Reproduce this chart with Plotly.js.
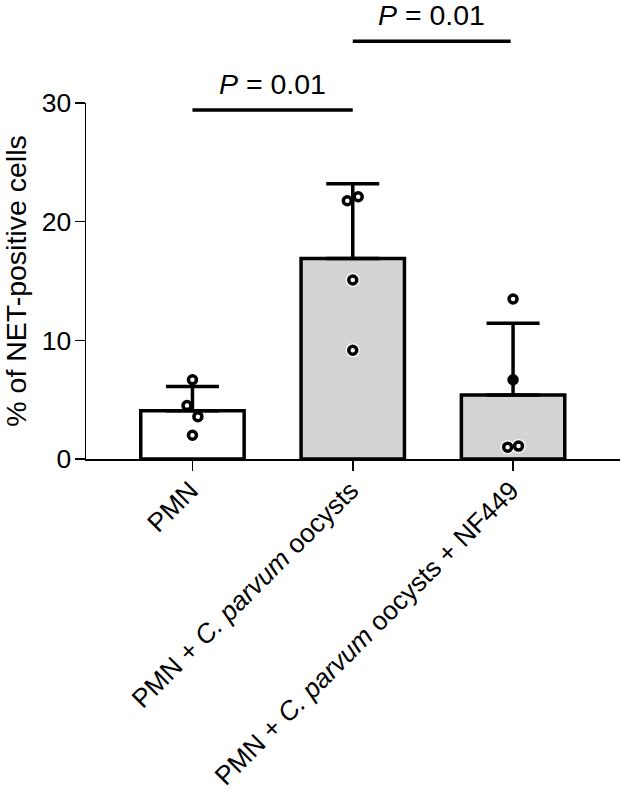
<!DOCTYPE html>
<html>
<head>
<meta charset="utf-8">
<script src="https://cdn.plot.ly/plotly-3.0.1.min.js"></script>
<style>html,body{margin:0;padding:0;background:#fff}</style>
</head>
<body>
<div id="chart" style="width:624px;height:795px"></div>
<script>
// groups and bar values
const groupPos = [0, 1, 2];
const groupLabels = ['PMN', 'PMN + <i>C. parvum</i> oocysts', 'PMN + <i>C. parvum</i> oocysts + NF449'];
const barMeans = [4.07, 16.9, 5.4];
const barSD = [2.05, 6.3, 6.05];
const barFill = ['#ffffff', '#d3d3d3', '#d3d3d3'];

// individual donors
const ptsX = [0, -0.034, 0.034, 0, 0.966, 1.034, 1, 1, 2, 2, 1.966, 2.034];
const ptsY = [6.68, 4.5, 3.57, 2.0, 21.76, 22.1, 15.08, 9.16, 13.48, 6.68, 1.0, 1.09];
const ptsCentre = ['#fff', '#fff', '#fff', '#fff', '#fff', '#fff', '#fff', '#fff', '#fff', '#000', '#fff', '#fff'];

// significance brackets, they sit above the top of the y axis
const yMax = 30;
const sig1X = [0, 1], sig1Y = [29.4, 29.4];
const sig2X = [1, 1.985], sig2Y = [35.2, 35.2];
const sigLabel = '<i>P</i> = 0.01';

const FONT = 'Liberation Sans, Arial, sans-serif';
const INK = '#000';

// white halo only shows for points sitting inside the grey bars
const halo = ptsX.map((x, i) => ({x, y: ptsY[i]})).filter(p => {
  const g = Math.round(p.x);
  return g > 0 && p.y < barMeans[g];
});

const traces = [
  {type: 'bar', x: groupPos, y: barMeans, width: 0.645,
   marker: {color: barFill, line: {color: INK, width: 3.5}},
   error_y: {type: 'data', symmetric: false, array: barSD, arrayminus: [0, 0, 0],
             color: INK, thickness: 3.5, width: 26.5}},
  {type: 'scatter', mode: 'markers', x: halo.map(p => p.x), y: halo.map(p => p.y),
   marker: {size: 14, color: '#fff'}, hoverinfo: 'skip'},
  {type: 'scatter', mode: 'markers', x: ptsX, y: ptsY, cliponaxis: false,
   marker: {size: 8, color: ptsCentre, line: {color: INK, width: 3.5}}}
];

const sigLine = (xs, ys) => ({
  type: 'line', xref: 'x', yref: 'paper',
  x0: xs[0], x1: xs[1], y0: ys[0] / yMax, y1: ys[1] / yMax,
  line: {color: INK, width: 3.5}
});
const sigText = (xs, ys) => ({
  xref: 'x', yref: 'paper', x: (xs[0] + xs[1]) / 2, y: ys[0] / yMax,
  text: sigLabel, showarrow: false, yanchor: 'bottom', yshift: 8,
  font: {family: FONT, size: 28.5, color: INK}
});

const layout = {
  width: 624, height: 795,
  margin: {l: 85.5, r: 4, t: 102.7, b: 336},
  paper_bgcolor: '#fff', plot_bgcolor: '#fff',
  showlegend: false,
  font: {family: FONT, color: INK, size: 24},
  xaxis: {
    range: [-0.664, 2.667], tickmode: 'array', tickvals: groupPos, ticktext: groupLabels,
    tickangle: -45, ticks: 'outside', ticklen: 10, tickwidth: 1.5, tickcolor: INK,
    showline: true, linewidth: 1.5, linecolor: INK, showgrid: false, zeroline: false,
    ticklabelstandoff: -6, ticklabelshift: -2,
    tickfont: {family: FONT, size: 26.4, color: INK}
  },
  yaxis: {
    range: [0, yMax], tickvals: [0, 10, 20, 30], ticks: 'outside', ticklen: 10, tickwidth: 1.5,
    tickcolor: INK, showline: true, linewidth: 1.5, linecolor: INK, showgrid: false, zeroline: false,
    ticklabelstandoff: -2,
    tickfont: {family: FONT, size: 26.5, color: INK},
    title: {text: '% of NET-positive cells', font: {family: FONT, size: 28.5, color: INK}, standoff: 13}
  },
  shapes: [sigLine(sig1X, sig1Y), sigLine(sig2X, sig2Y)],
  annotations: [sigText(sig1X, sig1Y), sigText(sig2X, sig2Y)]
};

Plotly.newPlot('chart', traces, layout, {staticPlot: true});
</script>
</body>
</html>
